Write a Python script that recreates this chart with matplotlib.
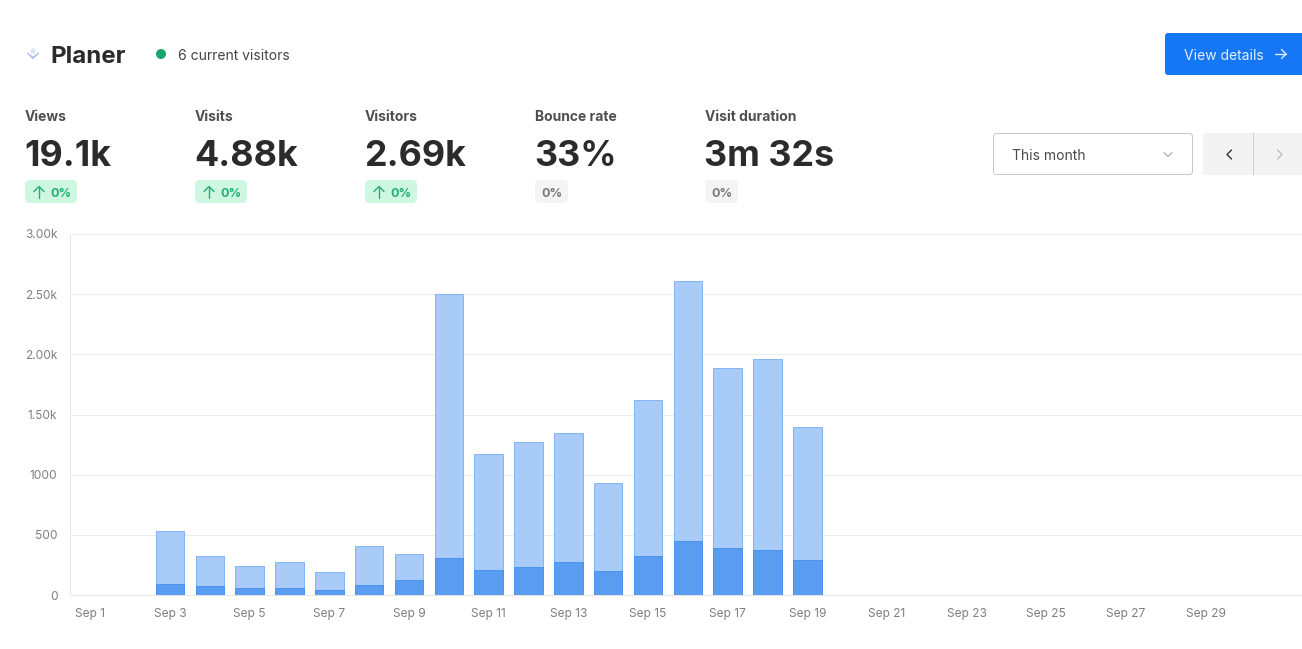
import matplotlib
matplotlib.use("Agg")
import matplotlib.pyplot as plt
from matplotlib.patches import FancyBboxPatch, Circle, Polygon, Rectangle

plt.rcParams['font.family'] = ['Inter', 'DejaVu Sans']

days = [3, 4, 5, 6, 7, 8, 9, 10, 11, 12, 13, 14, 15, 16, 17, 18, 19]
views = [530, 325, 245, 275, 195, 410, 340, 2505, 1175, 1270, 1350, 930, 1620, 2610, 1885, 1965, 1395]
visits = [95, 75, 60, 60, 40, 80, 125, 310, 210, 235, 275, 200, 325, 450, 390, 375, 290]
x_ticks = list(range(1, 30, 2))
x_labels = [f"Sep {d}" for d in x_ticks]
y_ticks = [0, 500, 1000, 1500, 2000, 2500, 3000]
y_labels = ["0", "500", "1000", "1.50k", "2.00k", "2.50k", "3.00k"]

stat_names = ["Views", "Visits", "Visitors", "Bounce rate", "Visit duration"]
stat_values = ["19.1k", "4.88k", "2.69k", "33%", "3m 32s"]
stat_deltas = ["0%", "0%", "0%", "0%", "0%"]
stat_up = [True, True, True, False, False]

W, H = 1302, 649
fig = plt.figure(figsize=(W / 100, H / 100), dpi=100, facecolor="white")

# chart
L, R, T, B = 70, 1302, 234, 595
ax = fig.add_axes([L / W, 1 - B / H, (R - L) / W, (B - T) / H])
ax.set_xlim(0.49, 31.42)
ax.set_ylim(0, 3000)
ax.set_axisbelow(True)
ax.grid(axis="y", color="#ebebeb", lw=0.72)
ax.tick_params(length=0)
for s in ("top", "right"):
    ax.spines[s].set_visible(False)
for s in ("left", "bottom"):
    ax.spines[s].set_color("#e6e6e6")
    ax.spines[s].set_linewidth(0.72)
ax.set_xticks(x_ticks, x_labels, fontsize=8.6, color="#7f7f7f")
ax.set_yticks(y_ticks, y_labels, fontsize=8.6, color="#7f7f7f")
ax.tick_params(axis="x", pad=9.3)
ax.tick_params(axis="y", pad=9)
bw = 0.715
ax.bar(days, views, width=bw, color="#a9cbf8", edgecolor="#86b5f4", lw=0.72)
ax.bar(days, visits, width=bw, color="#5a9df0", edgecolor="#4a93ee", lw=0.72)

# overlay in pixel coordinates
ov = fig.add_axes([0, 0, 1, 1], facecolor="none")
ov.set_xlim(0, W)
ov.set_ylim(H, 0)
ov.axis("off")


def box(x, y, w, h, fc, ec="none", r=4, lw=0.72):
    ov.add_patch(FancyBboxPatch((x + r, y + r), w - 2 * r, h - 2 * r, boxstyle=f"round,pad={r},rounding_size={r}",
                                fc=fc, ec=ec, lw=lw, clip_on=False))


def chev(pts, color, lw=1.0):
    xs, ys = zip(*pts)
    ov.plot(xs, ys, color=color, lw=lw, solid_capstyle="round", solid_joinstyle="miter")


# logo
ov.add_patch(Polygon([(33, 47.5), (36, 51), (33, 54.5), (30, 51)], fc="#dbe3f6", ec="none"))
ov.add_patch(Polygon([(27, 52), (33, 56.5), (39, 52), (39, 53.5), (33, 59.5), (27, 53.5)], fc="#b4c2ea", ec="none"))

ov.text(50.5, 54.6, "Planer", fontsize=17.4, fontweight="bold", color="#2b2b2b", va="center_baseline", ha="left")
ov.add_patch(Circle((161, 54), 5, fc="#14a66b", ec="none"))
ov.text(178, 55, "6 current visitors", fontsize=10, color="#444444", va="center_baseline", ha="left")

# view details
box(1165, 33, 145, 42, "#1677f5", r=3)
ov.text(1184, 55, "View details", fontsize=10, color="#e3eefd", va="center_baseline", ha="left")
chev([(1275, 54), (1286, 54)], "#dbe9fd")
chev([(1281.5, 49.5), (1286, 54), (1281.5, 58.5)], "#dbe9fd")

# stats
xs = [25, 195, 365, 535, 705]
for x, n, v, d, up in zip(xs, stat_names, stat_values, stat_deltas, stat_up):
    ov.text(x, 115.7, n, fontsize=10, fontweight="bold", color="#4f4f4f", va="center_baseline", ha="left")
    ov.text(x - 0.6, 153, v, fontsize=25.8, fontweight="bold", color="#2b2b2b", va="center_baseline", ha="left")
    if up:
        box(x, 180, 52, 23, "#cdf7e0", r=5)
        chev([(x + 14, 198), (x + 14, 187)], "#22ad72")
        chev([(x + 9, 191.5), (x + 14, 186.5), (x + 19, 191.5)], "#22ad72")
        ov.text(x + 25.6, 192.5, d, fontsize=9, fontweight="bold", color="#22ad72", va="center_baseline", ha="left")
    else:
        box(x, 180, 33, 23, "#f4f4f4", r=5)
        ov.text(x + 6.3, 192.5, d, fontsize=9, fontweight="bold", color="#777777", va="center_baseline", ha="left")

# date picker
box(993.5, 133.5, 199, 41, "white", ec="#c8c8c8", r=3)
ov.text(1011.6, 155, "This month", fontsize=10, color="#4a4a4a", va="center_baseline", ha="left")
chev([(1164, 152.5), (1168, 156.5), (1172, 152.5)], "#a8a8a8", lw=0.8)
box(1203, 133, 109, 42, "#f3f3f3", r=3)
ov.add_patch(Rectangle((1253, 133), 1, 42, fc="#cfcfcf", ec="none"))
chev([(1231.5, 150), (1227, 154.5), (1231.5, 159)], "#333333")
chev([(1277.5, 150), (1282, 154.5), (1277.5, 159)], "#bdbdbd")

fig.savefig("out.png", dpi=100, facecolor="white")
